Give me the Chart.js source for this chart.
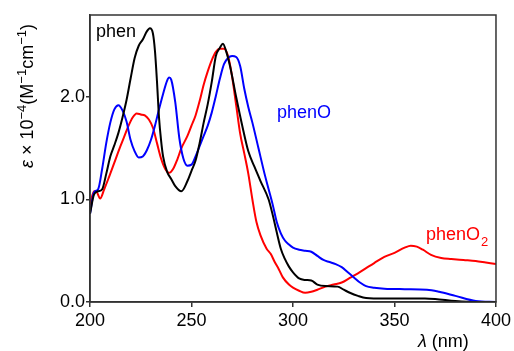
<!DOCTYPE html>
<html>
<head>
<meta charset="utf-8">
<script src="https://cdn.jsdelivr.net/npm/chart.js@4/dist/chart.umd.min.js"></script>
<style>
html,body{margin:0;padding:0;background:#fff;}
#wrap{width:514px;height:351px;position:relative;}
</style>
</head>
<body>
<div id="wrap"><canvas id="c" width="514" height="351"></canvas></div>
<script>
// wavelengths (nm) and epsilon x 10^-4 values
const phenX = [200,202,204,206,208,210,212,214,216,218,220,222,224,226,228,229.5,231,232,233,234,235,236,238,240,242,245,248,250,252,254,256,258,260,262,264,265.5,267,269,272,275,278,281,284,288,290,292,294,296,298,300,303,306,309,312,316,322,325,328,332,336,345,355,365,370,380,390,400];
const phenY = [0.86,1.05,1.08,1.10,1.25,1.42,1.53,1.65,1.80,1.97,2.18,2.38,2.50,2.56,2.64,2.67,2.62,2.45,2.15,1.80,1.58,1.42,1.27,1.20,1.13,1.08,1.18,1.28,1.38,1.55,1.75,1.93,2.15,2.40,2.48,2.52,2.45,2.30,2.00,1.72,1.47,1.32,1.18,1.00,0.85,0.68,0.52,0.42,0.345,0.29,0.23,0.215,0.21,0.17,0.155,0.15,0.12,0.09,0.06,0.04,0.035,0.035,0.035,0.03,0.01,0.0,0.0];

const phenOX = [200,202,204,206,208,210,212,214,216,218,220,222,224,226,228,230,232,234,236,238,239,240,242,244,246,248,250,252,254,256,258,260,262,264,266,268,270,272,274,276,278,280,283,286,288,290,292,294,296,298,300,303,306,309,312,315,318,321,324,327,330,333,336,340,345,355,366,372,380,390,400];
const phenOY = [0.86,1.07,1.10,1.30,1.55,1.75,1.88,1.92,1.87,1.76,1.58,1.47,1.41,1.42,1.48,1.58,1.72,1.88,2.03,2.16,2.19,2.17,1.95,1.60,1.40,1.33,1.34,1.42,1.52,1.62,1.72,1.85,2.01,2.18,2.32,2.38,2.40,2.39,2.30,2.08,1.90,1.75,1.50,1.25,1.10,0.95,0.78,0.67,0.60,0.56,0.53,0.51,0.50,0.49,0.45,0.41,0.39,0.37,0.34,0.29,0.24,0.19,0.155,0.14,0.13,0.125,0.12,0.10,0.06,0.01,0.0];

const phenO2X = [200,202,203,205,207,209,212,215,217,219,221,223,225,227,229,231,233,235,237,239,241,243,245,248,250,252,254,256,258,260,262,264,266,268,270,272,274,276,278,280,282,284,287,289,291,293,295,298,300,303,306,309,312,316,320,324,328,332,336,340,345,350,355,358,361,364,368,373,378,384,390,395,400];
const phenO2Y = [0.95,1.08,1.08,1.01,1.10,1.20,1.36,1.52,1.62,1.72,1.80,1.84,1.83,1.82,1.78,1.70,1.55,1.40,1.30,1.26,1.30,1.39,1.50,1.62,1.72,1.82,1.96,2.12,2.25,2.36,2.44,2.47,2.47,2.40,2.20,1.92,1.64,1.45,1.25,1.00,0.78,0.65,0.52,0.47,0.39,0.32,0.24,0.17,0.14,0.11,0.09,0.10,0.12,0.15,0.17,0.19,0.235,0.28,0.33,0.38,0.44,0.48,0.53,0.55,0.54,0.51,0.46,0.43,0.42,0.41,0.40,0.385,0.37];

const xTicks = [200,250,300,350,400];
const yTicks = [0,1,2];
const seriesNames = ['phen','phenO','phenO2'];

function pts(xs, ys){ return xs.map((x,i)=>({x:x,y:ys[i]})); }

const FONT = 'Liberation Sans, Arial, sans-serif';
const AX = '#333333';
const FS = 18;

const framePlugin = {
  id:'frame',
  afterDraw(chart){
    const {ctx, chartArea:a} = chart;
    ctx.save();
    ctx.strokeStyle = AX;
    ctx.lineWidth = 1.5;
    ctx.strokeRect(a.left, a.top, a.right - a.left, a.bottom - a.top);
    // labels
    ctx.font = FS+'px ' + FONT;
    ctx.textBaseline = 'alphabetic';
    ctx.textAlign = 'left';
    ctx.fillStyle = '#000000';
    ctx.fillText('phen', 96, 37);
    ctx.fillStyle = '#0000ff';
    ctx.fillText('phenO', 277, 118);
    ctx.fillStyle = '#ff0000';
    ctx.fillText('phenO', 426, 240);
    const w = ctx.measureText('phenO').width;
    ctx.font = '13px ' + FONT;
    ctx.fillText('2', 426 + w + 1, 246);
    // x title
    ctx.fillStyle = '#000000';
    ctx.font = 'italic '+FS+'px ' + FONT;
    ctx.fillText('\u03bb', 418, 347);
    const lw = ctx.measureText('\u03bb').width;
    ctx.font = FS+'px ' + FONT;
    ctx.fillText(' (nm)', 418 + lw, 347);
    // y title
    ctx.translate(33, 96);
    ctx.rotate(-Math.PI/2);
    ctx.textAlign = 'left';
    const parts = [
      ['italic '+FS+'px ', '\u03b5', 0],
      [FS+'px ', ' \u00d7 10', 0],
      ['13px ', '\u22124', -7],
      [FS+'px ', '(M', 0],
      ['13px ', '\u22121', -7],
      [FS+'px ', 'cm', 0],
      ['13px ', '\u22121', -7],
      [FS+'px ', ')', 0]
    ];
    let total = 0;
    parts.forEach(p=>{ ctx.font = p[0]+FONT; total += ctx.measureText(p[1]).width; });
    let x = -total/2;
    parts.forEach(p=>{ ctx.font = p[0]+FONT; ctx.fillText(p[1], x, p[2]); x += ctx.measureText(p[1]).width; });
    ctx.restore();
  }
};

new Chart(document.getElementById('c'), {
  type:'line',
  data:{
    datasets:[
      {label:seriesNames[0], data:pts(phenX,phenY), borderColor:'#000000'},
      {label:seriesNames[1], data:pts(phenOX,phenOY), borderColor:'#0000ff'},
      {label:seriesNames[2], data:pts(phenO2X,phenO2Y), borderColor:'#ff0000'}
    ].map(d=>Object.assign(d,{borderWidth:2, pointRadius:0, fill:false, cubicInterpolationMode:'monotone'}))
  },
  options:{
    responsive:false,
    animation:false,
    layout:{padding:{left:0,right:16,top:15,bottom:0}},
    plugins:{legend:{display:false}, tooltip:{enabled:false}},
    scales:{
      x:{
        type:'linear', min:200, max:400,
        afterBuildTicks(s){ s.ticks = xTicks.map(v=>({value:v})); },
        afterFit(s){ s.height = 49; },
        grid:{drawOnChartArea:false, drawTicks:true, tickLength:5, color:AX, lineWidth:1.5},
        border:{display:true, color:AX, width:1.5},
        ticks:{font:{family:FONT, size:FS}, color:'#000', padding:3, maxRotation:0}
      },
      y:{
        type:'linear', min:0, max:2.8,
        afterBuildTicks(s){ s.ticks = yTicks.map(v=>({value:v})); },
        afterFit(s){ s.width = 90; },
        grid:{drawOnChartArea:false, drawTicks:true, tickLength:4, color:AX, lineWidth:1.5},
        border:{display:true, color:AX, width:1.5},
        ticks:{font:{family:FONT, size:FS}, color:'#000', padding:1, callback:v=>v.toFixed(1)}
      }
    }
  },
  plugins:[framePlugin]
});
</script>
</body>
</html>
